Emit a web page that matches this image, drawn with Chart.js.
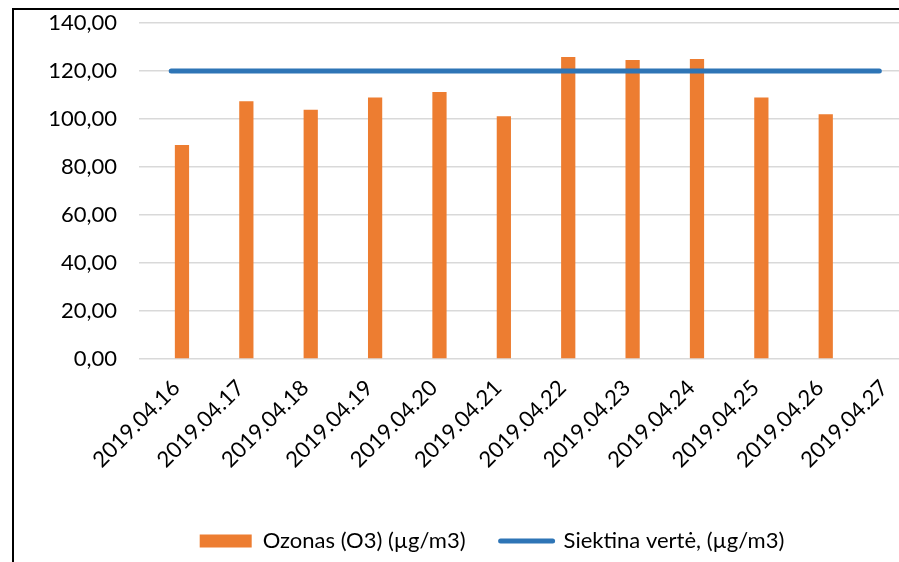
<!DOCTYPE html>
<html>
<head>
<meta charset="utf-8">
<script src="https://cdn.jsdelivr.net/npm/chart.js@4"></script>
<style>
  html, body { margin: 0; padding: 0; background: #fff; overflow: hidden; width: 899px; height: 562px; }
  #frame { position: absolute; left: 12px; top: 8px; width: 900px; height: 560px; border-left: 2.5px solid #000; border-top: 2.5px solid #000; }
  #wrap { position: absolute; left: 0; top: 0; width: 914px; height: 562px; }
</style>
</head>
<body>
<div id="frame"></div>
<div id="wrap"><canvas id="c" width="914" height="562"></canvas></div>
<script>
const categories = ['2019.04.16','2019.04.17','2019.04.18','2019.04.19','2019.04.20','2019.04.21','2019.04.22','2019.04.23','2019.04.24','2019.04.25','2019.04.26','2019.04.27'];
const ozoneValues = [89.2, 107.4, 103.9, 109.0, 111.3, 101.1, 125.8, 124.6, 125.0, 109.0, 102.0, null];
const targetValues = [120, 120, 120, 120, 120, 120, 120, 120, 120, 120, 120, 120];
const yTickMin = 0, yTickMax = 140, yTickStep = 20;
const ozoneLabel = 'Ozonas (O3) (\u00b5g/m3)';
const targetLabel = 'Siektina vert\u0117, (\u00b5g/m3)';

const FONT = 'Lato';
const FS = 22;
const legendShift = {
  id: 'legendShift',
  afterLayout(chart) {
    if (chart.legend) { chart.legend.left = 70; }
  }
};
new Chart(document.getElementById('c'), {
  type: 'bar',
  data: {
    labels: categories,
    datasets: [
      { label: '_spacer', data: categories.map(() => null), backgroundColor: 'rgba(0,0,0,0)', order: 1 },
      { label: ozoneLabel, data: ozoneValues, backgroundColor: '#ED7D31', borderWidth: 0, order: 2 },
      { type: 'line', label: targetLabel, data: targetValues, borderColor: '#2E75B6', backgroundColor: '#2E75B6',
        borderWidth: 5, pointRadius: 0, borderCapStyle: 'round', tension: 0, order: 0 }
    ]
  },
  plugins: [legendShift],
  options: {
    responsive: false,
    animation: false,
    categoryPercentage: 0.67,
    barPercentage: 0.66,
    layout: { padding: { left: 16, right: 0, top: 23, bottom: 0 } },
    scales: {
      x: {
        offset: true,
        grid: { display: false, drawTicks: false },
        border: { display: false },
        ticks: { autoSkip: false, minRotation: 45, maxRotation: 45, padding: 16, labelOffset: 5, color: '#000', font: { family: FONT, size: FS } },
        afterFit: s => { s.height = 136; s.paddingTop = 0; s.paddingBottom = 0; }
      },
      y: {
        min: yTickMin, max: yTickMax,
        grid: { color: '#D9D9D9', lineWidth: 1.5, drawTicks: false },
        border: { display: false },
        ticks: { stepSize: yTickStep, padding: 22, color: '#000', font: { family: FONT, size: FS },
          callback: v => v.toFixed(2).replace('.', ',') },
        afterFit: s => { s.width = 123; s.paddingTop = 0; s.paddingBottom = 0; }
      }
    },
    plugins: {
      tooltip: { enabled: false },
      legend: {
        position: 'bottom',
        labels: {
          filter: item => item.text !== '_spacer',
          sort: (a, b) => a.datasetIndex - b.datasetIndex,
          usePointStyle: true,
          pointStyleWidth: 52,
          boxHeight: 13,
          padding: 35,
          color: '#000',
          font: { family: FONT, size: FS },
          generateLabels: chart => {
            const items = Chart.defaults.plugins.legend.labels.generateLabels(chart);
            items.forEach(it => {
              const ds = chart.data.datasets[it.datasetIndex];
              if (ds.type === 'line') { it.pointStyle = 'line'; it.lineWidth = 5; it.lineCap = 'round'; }
              else { it.pointStyle = 'rect'; it.lineWidth = 0; }
            });
            return items;
          }
        }
      }
    }
  }
});
</script>
</body>
</html>
